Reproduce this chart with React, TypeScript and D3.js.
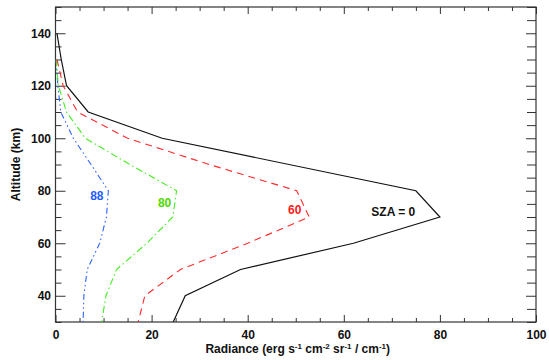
import React, { useRef, useEffect } from "react";
import * as d3 from "d3";

// radiance profiles (x = radiance, y = altitude km)
const sza0Alt = [140, 130, 120, 110, 100, 80, 70, 60, 50, 40, 30];
const sza0Rad = [0.3, 1.2, 2.3, 6.8, 22.2, 75, 80, 62, 38.5, 27, 24.5];

const gridAlt = [130, 120, 110, 100, 90, 80, 70, 60, 50, 40, 30];
const sza60Rad = [0.3, 1.6, 4.6, 15, 32, 50.2, 52.8, 40, 26, 18.6, 17.2];
const sza80Rad = [0.1, 0.6, 2.3, 6.2, 15.5, 25.2, 24.4, 19, 12.7, 10.5, 9.6];
const sza88Rad = [0.1, 0.5, 1.1, 3.7, 7.4, 11, 10.6, 9.2, 6.6, 5.9, 5.75];

const xMajor = [0, 20, 40, 60, 80, 100];
const yMajor = [40, 60, 80, 100, 120, 140];

function App() {
  const svgRef = useRef<SVGSVGElement>(null);

  useEffect(() => {
    const svg = d3.select(svgRef.current);
    const width = 549;
    const height = 360;
    const margin = { top: 7, right: 13, bottom: 38, left: 55.5 };
    svg.selectAll("*").remove();

    const x = d3.scaleLinear().domain([0, 100]).range([margin.left, width - margin.right]);
    const y = d3.scaleLinear().domain([30, 150]).range([height - margin.bottom, margin.top]);

    const font = "'Liberation Sans', Arial, sans-serif";
    const x0 = x(0), x1 = x(100), y0 = y(30), y1 = y(150);

    svg.append("rect").attr("width", width).attr("height", height).attr("fill", "#fff");

    const xMinor = d3.range(0, 101, 5).filter(v => v % 20 !== 0);
    const yMinor = d3.range(30, 151, 5).filter(v => v % 20 !== 0);

    const styleAxis = (g: any) => {
      g.select(".domain").remove();
      g.selectAll("line").attr("stroke", "#333").attr("stroke-width", 1);
      g.selectAll("text")
        .attr("fill", "#111")
        .style("font-family", font)
        .style("font-size", "12px")
        .style("font-weight", "bold");
    };

    // bottom
    svg.append("g").attr("transform", `translate(0,${y0})`)
      .call(d3.axisBottom(x).tickValues(xMajor).tickSize(-7).tickPadding(8).tickFormat(d3.format("d")))
      .call(styleAxis);
    svg.append("g").attr("transform", `translate(0,${y0})`)
      .call(d3.axisBottom(x).tickValues(xMinor).tickSize(-4).tickFormat(() => ""))
      .call(styleAxis);
    // top
    svg.append("g").attr("transform", `translate(0,${y1})`)
      .call(d3.axisTop(x).tickValues(xMajor).tickSize(-7).tickFormat(() => ""))
      .call(styleAxis);
    svg.append("g").attr("transform", `translate(0,${y1})`)
      .call(d3.axisTop(x).tickValues(xMinor).tickSize(-4).tickFormat(() => ""))
      .call(styleAxis);
    // left
    svg.append("g").attr("transform", `translate(${x0},0)`)
      .call(d3.axisLeft(y).tickValues(yMajor).tickSize(-10).tickPadding(4.5).tickFormat(d3.format("d")))
      .call(styleAxis);
    svg.append("g").attr("transform", `translate(${x0},0)`)
      .call(d3.axisLeft(y).tickValues(yMinor).tickSize(-6).tickFormat(() => ""))
      .call(styleAxis);
    // right
    svg.append("g").attr("transform", `translate(${x1},0)`)
      .call(d3.axisRight(y).tickValues(yMajor).tickSize(-10).tickFormat(() => ""))
      .call(styleAxis);
    svg.append("g").attr("transform", `translate(${x1},0)`)
      .call(d3.axisRight(y).tickValues(yMinor).tickSize(-9).tickFormat(() => ""))
      .call(styleAxis);

    // frame
    svg.append("rect")
      .attr("x", x0).attr("y", y1)
      .attr("width", x1 - x0).attr("height", y0 - y1)
      .attr("fill", "none").attr("stroke", "#333").attr("stroke-width", 1.2);

    svg.append("clipPath").attr("id", "plot-clip")
      .append("rect").attr("x", x0).attr("y", y1).attr("width", x1 - x0).attr("height", y0 - y1);

    const line = d3.line<[number, number]>().x(d => x(d[0])).y(d => y(d[1]));

    const series = [
      { rad: sza88Rad, alt: gridAlt, color: "#2a62ff", dash: "6,3,1.5,3,1.5,3", width: 1.1 },
      { rad: sza80Rad, alt: gridAlt, color: "#44ee22", dash: "7,3,1.5,3", width: 1.1 },
      { rad: sza60Rad, alt: gridAlt, color: "#ff2a2a", dash: "7,5", width: 1.1 },
      { rad: sza0Rad, alt: sza0Alt, color: "#111", dash: null, width: 1.2 },
    ];

    svg.append("g").attr("clip-path", "url(#plot-clip)")
      .selectAll("path")
      .data(series)
      .join("path")
      .attr("d", s => line(s.rad.map((r, i) => [r, s.alt[i]] as [number, number])))
      .attr("fill", "none")
      .attr("stroke", s => s.color)
      .attr("stroke-width", s => s.width)
      .attr("stroke-dasharray", s => s.dash);

    // curve labels
    const labels = [
      { text: "88", rad: 8.6, alt: 76.5, color: "#1f5cff" },
      { text: "80", rad: 22.7, alt: 74, color: "#4fd800" },
      { text: "60", rad: 49.8, alt: 71, color: "#ff1a1a" },
      { text: "SZA = 0", rad: 70.3, alt: 70.2, color: "#111" },
    ];
    svg.append("g").selectAll("text")
      .data(labels)
      .join("text")
      .attr("x", d => x(d.rad))
      .attr("y", d => y(d.alt))
      .attr("text-anchor", "middle")
      .attr("fill", d => d.color)
      .style("font-family", font)
      .style("font-size", "12px")
      .style("font-weight", "bold")
      .text(d => d.text);

    // x title with superscripts
    const xt = svg.append("text")
      .attr("x", (x0 + x1) / 2 + 2)
      .attr("y", 353)
      .attr("text-anchor", "middle")
      .attr("fill", "#111")
      .style("font-family", font)
      .style("font-size", "12px")
      .style("font-weight", "bold");
    const parts: [string, boolean][] = [
      ["Radiance (erg s", false], ["-1", true], [" cm", false], ["-2", true],
      [" sr", false], ["-1", true], [" / cm", false], ["-1", true], [")", false],
    ];
    parts.forEach(([t, sup]) => {
      const ts = xt.append("tspan").text(t);
      if (sup) ts.attr("baseline-shift", "super").style("font-size", "8px");
    });

    // y title
    svg.append("text")
      .attr("transform", `translate(20,${(y0 + y1) / 2}) rotate(-90)`)
      .attr("text-anchor", "middle")
      .attr("fill", "#111")
      .style("font-family", font)
      .style("font-size", "12px")
      .style("font-weight", "bold")
      .text("Altitude (km)");
  }, []);

  return (
    <svg
      ref={svgRef}
      width={549}
      height={360}
      style={{ position: "absolute", left: 0, top: 0, display: "block" }}
    />
  );
}

export default App;
